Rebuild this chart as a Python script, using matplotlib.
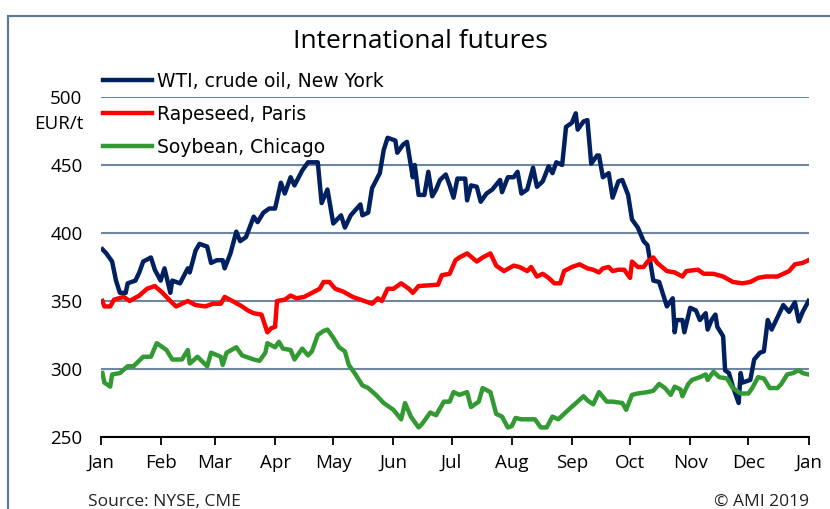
import numpy as np
import pandas as pd
import matplotlib
matplotlib.use("Agg")
import matplotlib.pyplot as plt
import matplotlib.dates as mdates
from matplotlib.patches import Rectangle

# day offsets from 1 Jan and values in EUR/t
wti_days = [1, 3, 6, 8, 10, 13, 14, 18, 20, 22, 26, 28, 31, 33, 36, 37, 41, 45, 46, 49,
            51, 55, 57, 60, 63, 64, 67, 70, 72, 75, 79, 81, 84, 87, 90, 93, 95, 98, 100, 104,
            107, 112, 114, 117, 120, 124, 126, 129, 134, 135, 138, 140, 144, 146, 148, 152, 153, 156, 158, 161,
            162, 164, 167, 169, 171, 173, 175, 178, 180, 182, 184, 188, 189, 191, 194, 196, 199, 202, 206, 207,
            210, 213, 215, 217, 220, 223, 225, 228, 231, 233, 235, 238, 240, 243, 245, 246, 249, 251, 253, 256,
            257, 259, 262, 264, 267, 269, 272, 274, 277, 280, 282, 285, 288, 292, 295, 296, 297, 300, 301, 304,
            307, 309, 312, 313, 315, 317, 318, 321, 322, 324, 326, 329, 330, 331, 335, 337, 340, 342, 344, 346,
            349, 352, 355, 358, 360, 362, 365]
wti_vals = [388, 385, 379, 365, 356, 356, 363, 365, 371, 379, 382, 373, 365, 374, 356, 365, 363, 374, 371, 387,
            392, 390, 378, 380, 380, 374, 385, 401, 394, 397, 412, 408, 415, 418, 418, 437, 429, 441, 435, 446,
            452, 452, 422, 432, 407, 413, 404, 413, 421, 413, 415, 433, 444, 461, 470, 468, 459, 465, 467, 441,
            450, 428, 428, 445, 427, 432, 439, 443, 435, 426, 440, 440, 424, 435, 434, 423, 429, 432, 439, 430,
            441, 441, 445, 429, 432, 448, 434, 438, 449, 444, 452, 450, 478, 481, 488, 476, 482, 483, 451, 457,
            457, 441, 444, 426, 438, 439, 428, 410, 404, 394, 391, 365, 364, 346, 352, 327, 336, 336, 327, 345,
            343, 336, 341, 329, 336, 340, 331, 324, 299, 297, 287, 275, 297, 290, 292, 307, 312, 313, 336, 329,
            338, 347, 342, 349, 335, 342, 350]

rape_days = [1, 2, 5, 7, 12, 15, 20, 24, 28, 32, 36, 39, 45, 49, 54, 58, 62, 64, 68, 73,
             76, 79, 83, 86, 88, 90, 91, 95, 98, 101, 105, 109, 113, 115, 118, 121, 125, 130, 134, 140,
             143, 145, 148, 151, 155, 159, 161, 164, 174, 176, 180, 183, 185, 189, 194, 197, 201, 204, 208, 213,
             216, 220, 222, 225, 228, 231, 234, 237, 239, 243, 247, 251, 254, 257, 259, 262, 264, 267, 270, 273,
             274, 277, 280, 282, 285, 287, 292, 296, 300, 302, 308, 311, 316, 321, 326, 331, 335, 339, 343, 349,
             352, 355, 358, 362, 365]
rape_vals = [350, 346, 346, 351, 353, 350, 354, 359, 361, 356, 350, 346, 350, 347, 346, 348, 348, 353, 350, 346,
             343, 341, 340, 327, 330, 331, 350, 351, 354, 352, 353, 356, 359, 364, 364, 359, 357, 353, 351, 348,
             352, 350, 359, 359, 363, 359, 356, 361, 362, 369, 370, 380, 382, 385, 379, 382, 385, 376, 372, 376,
             375, 372, 375, 368, 370, 367, 363, 363, 372, 375, 377, 374, 373, 371, 374, 375, 372, 373, 373, 367,
             379, 375, 375, 379, 382, 378, 372, 371, 368, 372, 373, 370, 370, 368, 364, 363, 364, 367, 368, 368,
             370, 372, 377, 378, 380]

soy_days = [1, 2, 5, 6, 10, 14, 17, 22, 26, 29, 32, 34, 37, 42, 45, 46, 50, 55, 57, 62,
            63, 65, 70, 73, 79, 82, 85, 86, 90, 92, 94, 98, 100, 104, 107, 109, 112, 115, 117, 120,
            123, 126, 128, 131, 135, 138, 142, 146, 151, 155, 157, 160, 164, 166, 170, 173, 177, 180, 182, 185,
            189, 191, 195, 197, 201, 204, 207, 210, 212, 214, 217, 220, 224, 227, 230, 233, 236, 239, 242, 246,
            249, 251, 254, 257, 261, 264, 269, 271, 274, 277, 282, 285, 288, 291, 294, 296, 299, 300, 303, 305,
            309, 312, 313, 316, 319, 323, 326, 330, 334, 336, 339, 342, 345, 349, 351, 354, 357, 360, 362, 365]
soy_vals = [297, 290, 287, 296, 297, 302, 302, 309, 309, 319, 316, 314, 307, 307, 314, 304, 309, 302, 312, 309,
            303, 312, 316, 310, 307, 306, 312, 319, 316, 320, 315, 314, 307, 315, 310, 313, 325, 328, 329, 323,
            316, 313, 303, 297, 288, 286, 281, 275, 270, 263, 275, 265, 257, 260, 268, 266, 276, 276, 283, 281,
            283, 272, 276, 286, 283, 267, 265, 257, 258, 264, 263, 263, 263, 257, 257, 265, 263, 267, 271, 276,
            280, 277, 274, 283, 276, 276, 275, 270, 281, 282, 283, 284, 289, 286, 281, 287, 285, 280, 289, 292,
            294, 296, 292, 298, 294, 293, 286, 282, 282, 286, 294, 293, 286, 286, 289, 296, 297, 299, 297, 296]

series_labels = ["WTI, crude oil, New York", "Rapeseed, Paris", "Soybean, Chicago"]
month_labels = ["Jan", "Feb", "Mar", "Apr", "May", "Jun", "Jul", "Aug", "Sep", "Oct", "Nov", "Dec", "Jan"]

start = pd.Timestamp("2018-01-01")


def to_dates(days):
    return start + pd.to_timedelta(days, unit="D")


fig = plt.figure(figsize=(8.3, 5.09), dpi=100)
ax = fig.add_axes([100.5 / 830, 1 - 437 / 509, 708 / 830, 340 / 509])

# outer frame
fig.patches.append(Rectangle((8 / 830, -0.1), 1.2, 1 - 16 / 509 + 0.1, transform=fig.transFigure,
                             fill=False, edgecolor="#5f7894", linewidth=1.6, zorder=0))

ax.plot(to_dates(wti_days), wti_vals, color="#002060", lw=3.2, label=series_labels[0], zorder=3)
ax.plot(to_dates(rape_days), rape_vals, color="#ff0000", lw=3.2, label=series_labels[1], zorder=3)
ax.plot(to_dates(soy_days), soy_vals, color="#339933", lw=3.2, label=series_labels[2], zorder=3)

ax.set_xlim(start, pd.Timestamp("2019-01-01"))
ax.set_ylim(250, 500)
ax.set_yticks([250, 300, 350, 400, 450, 500])
ax.yaxis.grid(True, color="#6e86a0", lw=1.5)
ax.set_axisbelow(True)
for s in ["left", "right", "top"]:
    ax.spines[s].set_visible(False)
ax.spines["bottom"].set_color("black")
ax.spines["bottom"].set_linewidth(1.5)

month_pos = pd.date_range("2018-01-01", "2019-01-01", freq="MS")
ax.set_xticks(month_pos)
ax.set_xticklabels(month_labels)
tick_font = {"family": ["Open Sans", "DejaVu Sans"], "size": 13.5}
for lab in ax.get_xticklabels() + ax.get_yticklabels():
    lab.set_fontfamily(tick_font["family"])
    lab.set_fontsize(tick_font["size"])
ax.tick_params(axis="x", direction="out", length=6, width=1.3, pad=6)
ax.tick_params(axis="y", length=0, pad=13)

fig.text(83 / 830, 1 - 124 / 509, "EUR/t", ha="right", va="center",
         family=["Open Sans", "DejaVu Sans"], fontsize=13.5)

fig.text(420 / 830, 1 - 42 / 509, "International futures", ha="center", va="center",
         family=["Open Sans", "DejaVu Sans"], fontsize=19)

fig.legend(loc="upper left", bbox_to_anchor=(103 / 830, 1 - 72 / 509), frameon=False,
           prop={"family": "DejaVu Sans", "size": 13.5}, handlelength=2.6, handletextpad=0.3,
           labelspacing=0.74, borderpad=0, borderaxespad=0)

fig.text(88 / 830, 1 - 502 / 509, "Source: NYSE, CME", ha="left", va="center",
         family=["Open Sans", "DejaVu Sans"], fontsize=12.5, color="#222222")
fig.text(809 / 830, 1 - 502 / 509, "\u00a9 AMI 2019", ha="right", va="center",
         family=["Open Sans", "DejaVu Sans"], fontsize=12.5, color="#222222")

fig.savefig("out.png", dpi=100)
